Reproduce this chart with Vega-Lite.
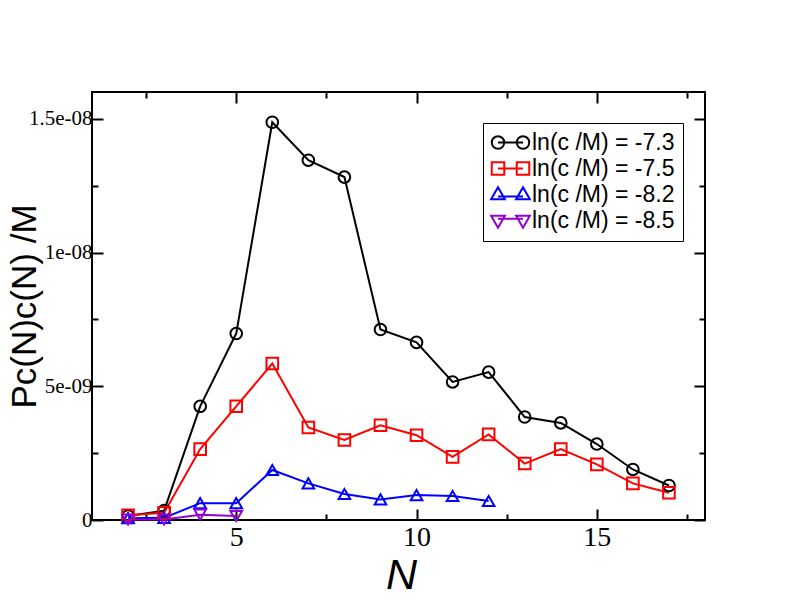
{
  "$schema": "https://vega.github.io/schema/vega-lite/v6.json",
  "width": 613,
  "height": 428,
  "autosize": "none",
  "padding": {"left": 92, "top": 92, "right": 87, "bottom": 92},
  "background": "white",
  "config": {
    "view": {"stroke": "black", "strokeWidth": 2},
    "axis": {"domain": false, "grid": false, "tickColor": "black", "tickWidth": 2, "labelColor": "black", "titleColor": "black"}
  },
  "data": {
    "values": [
      {"N": 2, "v": 0.15e-9, "s": "ln(c /M) = -7.3"},
      {"N": 3, "v": 0.35e-9, "s": "ln(c /M) = -7.3"},
      {"N": 4, "v": 4.25e-9, "s": "ln(c /M) = -7.3"},
      {"N": 5, "v": 6.97e-9, "s": "ln(c /M) = -7.3"},
      {"N": 6, "v": 14.87e-9, "s": "ln(c /M) = -7.3"},
      {"N": 7, "v": 13.45e-9, "s": "ln(c /M) = -7.3"},
      {"N": 8, "v": 12.82e-9, "s": "ln(c /M) = -7.3"},
      {"N": 9, "v": 7.12e-9, "s": "ln(c /M) = -7.3"},
      {"N": 10, "v": 6.64e-9, "s": "ln(c /M) = -7.3"},
      {"N": 11, "v": 5.16e-9, "s": "ln(c /M) = -7.3"},
      {"N": 12, "v": 5.53e-9, "s": "ln(c /M) = -7.3"},
      {"N": 13, "v": 3.85e-9, "s": "ln(c /M) = -7.3"},
      {"N": 14, "v": 3.63e-9, "s": "ln(c /M) = -7.3"},
      {"N": 15, "v": 2.84e-9, "s": "ln(c /M) = -7.3"},
      {"N": 16, "v": 1.89e-9, "s": "ln(c /M) = -7.3"},
      {"N": 17, "v": 1.29e-9, "s": "ln(c /M) = -7.3"},
      {"N": 2, "v": 0.18e-9, "s": "ln(c /M) = -7.5"},
      {"N": 3, "v": 0.27e-9, "s": "ln(c /M) = -7.5"},
      {"N": 4, "v": 2.65e-9, "s": "ln(c /M) = -7.5"},
      {"N": 5, "v": 4.25e-9, "s": "ln(c /M) = -7.5"},
      {"N": 6, "v": 5.85e-9, "s": "ln(c /M) = -7.5"},
      {"N": 7, "v": 3.46e-9, "s": "ln(c /M) = -7.5"},
      {"N": 8, "v": 2.99e-9, "s": "ln(c /M) = -7.5"},
      {"N": 9, "v": 3.54e-9, "s": "ln(c /M) = -7.5"},
      {"N": 10, "v": 3.17e-9, "s": "ln(c /M) = -7.5"},
      {"N": 11, "v": 2.36e-9, "s": "ln(c /M) = -7.5"},
      {"N": 12, "v": 3.2e-9, "s": "ln(c /M) = -7.5"},
      {"N": 13, "v": 2.11e-9, "s": "ln(c /M) = -7.5"},
      {"N": 14, "v": 2.65e-9, "s": "ln(c /M) = -7.5"},
      {"N": 15, "v": 2.08e-9, "s": "ln(c /M) = -7.5"},
      {"N": 16, "v": 1.37e-9, "s": "ln(c /M) = -7.5"},
      {"N": 17, "v": 1.02e-9, "s": "ln(c /M) = -7.5"},
      {"N": 2, "v": 0.07e-9, "s": "ln(c /M) = -8.2"},
      {"N": 3, "v": 0.08e-9, "s": "ln(c /M) = -8.2"},
      {"N": 4, "v": 0.63e-9, "s": "ln(c /M) = -8.2"},
      {"N": 5, "v": 0.63e-9, "s": "ln(c /M) = -8.2"},
      {"N": 6, "v": 1.87e-9, "s": "ln(c /M) = -8.2"},
      {"N": 7, "v": 1.37e-9, "s": "ln(c /M) = -8.2"},
      {"N": 8, "v": 0.97e-9, "s": "ln(c /M) = -8.2"},
      {"N": 9, "v": 0.77e-9, "s": "ln(c /M) = -8.2"},
      {"N": 10, "v": 0.93e-9, "s": "ln(c /M) = -8.2"},
      {"N": 11, "v": 0.9e-9, "s": "ln(c /M) = -8.2"},
      {"N": 12, "v": 0.71e-9, "s": "ln(c /M) = -8.2"},
      {"N": 2, "v": 0.02e-9, "s": "ln(c /M) = -8.5"},
      {"N": 3, "v": 0.02e-9, "s": "ln(c /M) = -8.5"},
      {"N": 4, "v": 0.2e-9, "s": "ln(c /M) = -8.5"},
      {"N": 5, "v": 0.15e-9, "s": "ln(c /M) = -8.5"}
    ]
  },
  "resolve": {
    "scale": {"color": "independent", "shape": "independent"},
    "axis": {"x": "independent", "y": "independent"}
  },
  "layer": [
    {
      "mark": {"type": "line", "strokeWidth": 2},
      "encoding": {
        "x": {
          "field": "N", "type": "quantitative",
          "scale": {"domain": [1, 18], "nice": false, "zero": false},
          "axis": {
            "orient": "bottom",
            "values": [2.5, 5, 7.5, 10, 12.5, 15, 17.5],
            "labelExpr": "datum.value % 5 === 0 ? format(datum.value, 'd') : ''",
            "tickSize": {"condition": {"test": "datum.value % 5 === 0", "value": -11}, "value": -6},
            "labelPadding": 14,
            "labelFont": "Liberation Serif", "labelFontSize": 28,
            "title": "N",
            "titleFont": "Liberation Sans", "titleFontSize": 43, "titleFontStyle": "italic", "titleFontWeight": "normal",
            "titleBaseline": "alphabetic", "titleX": 309, "titleY": 68
          }
        },
        "y": {
          "field": "v", "type": "quantitative",
          "scale": {"domain": [0, 1.6e-8], "nice": false},
          "axis": {
            "orient": "left",
            "values": [0, 2.5e-9, 5e-9, 7.5e-9, 1e-8, 1.25e-8, 1.5e-8],
            "labelExpr": "datum.value === 0 ? '0' : abs(datum.value - 5e-9) < 1e-12 ? '5e-09' : abs(datum.value - 1e-8) < 1e-12 ? '1e-08' : abs(datum.value - 1.5e-8) < 1e-12 ? '1.5e-08' : ''",
            "tickSize": {"condition": {"test": "abs(datum.value / 5e-9 - round(datum.value / 5e-9)) < 0.01", "value": -11}, "value": -6},
            "labelPadding": 11,
            "labelFont": "Liberation Serif", "labelFontSize": 21,
            "title": "Pc(N)c(N) /M",
            "titleFont": "Liberation Sans", "titleFontSize": 35, "titleFontWeight": "normal",
            "titleAngle": -90, "titleBaseline": "alphabetic", "titleAlign": "center",
            "titleX": -57, "titleY": 214
          }
        },
        "color": {
          "field": "s", "type": "nominal",
          "scale": {"domain": ["ln(c /M) = -7.3", "ln(c /M) = -7.5", "ln(c /M) = -8.2", "ln(c /M) = -8.5"], "range": ["#000000", "#ff0000", "#0000ff", "#9400d3"]},
          "legend": null
        }
      }
    },
    {
      "mark": {"type": "point", "filled": false, "strokeWidth": 2, "size": 135, "opacity": 1},
      "encoding": {
        "x": {
          "field": "N", "type": "quantitative",
          "scale": {"domain": [1, 18], "nice": false, "zero": false},
          "axis": {
            "orient": "top", "labels": false, "title": null,
            "values": [2.5, 5, 7.5, 10, 12.5, 15, 17.5],
            "tickSize": {"condition": {"test": "datum.value % 5 === 0", "value": -11}, "value": -6}
          }
        },
        "y": {
          "field": "v", "type": "quantitative",
          "scale": {"domain": [0, 1.6e-8], "nice": false},
          "axis": {
            "orient": "right", "labels": false, "title": null,
            "values": [0, 2.5e-9, 5e-9, 7.5e-9, 1e-8, 1.25e-8, 1.5e-8],
            "tickSize": {"condition": {"test": "abs(datum.value / 5e-9 - round(datum.value / 5e-9)) < 0.01", "value": -11}, "value": -6}
          }
        },
        "color": {
          "field": "s", "type": "nominal",
          "scale": {"domain": ["ln(c /M) = -7.3", "ln(c /M) = -7.5", "ln(c /M) = -8.2", "ln(c /M) = -8.5"], "range": ["#000000", "#ff0000", "#0000ff", "#9400d3"]},
          "legend": null
        },
        "shape": {
          "field": "s", "type": "nominal",
          "scale": {"domain": ["ln(c /M) = -7.3", "ln(c /M) = -7.5", "ln(c /M) = -8.2", "ln(c /M) = -8.5"], "range": ["circle", "square", "triangle-up", "triangle-down"]},
          "legend": null
        }
      }
    },
    {
      "mark": {"type": "point", "filled": false, "strokeWidth": 2, "size": 156.25, "opacity": 0},
      "encoding": {
        "x": {"field": "N", "type": "quantitative", "scale": {"domain": [1, 18], "nice": false, "zero": false}, "axis": null},
        "y": {"field": "v", "type": "quantitative", "scale": {"domain": [0, 1.6e-8], "nice": false}, "axis": null},
        "color": {
          "field": "s", "type": "nominal",
          "scale": {"domain": ["ln(c /M) = -7.3", "ln(c /M) = -7.5", "ln(c /M) = -8.2", "ln(c /M) = -8.5"], "range": ["#000000", "#ff0000", "#0000ff", "#9400d3"]},
          "legend": {
            "orient": "none", "legendX": 391, "legendY": 31, "title": null,
            "padding": 8, "strokeColor": "black", "fillColor": "white",
            "labelFont": "Liberation Sans", "labelFontSize": 23, "labelColor": "black", "labelLimit": 0,
            "symbolSize": 156.25, "symbolStrokeWidth": 2, "symbolOpacity": 1,
            "symbolOffset": 8, "labelOffset": 10, "rowPadding": 2
          }
        },
        "shape": {
          "field": "s", "type": "nominal",
          "scale": {
            "domain": ["ln(c /M) = -7.3", "ln(c /M) = -7.5", "ln(c /M) = -8.2", "ln(c /M) = -8.5"],
            "range": [
              "M-3,0A1,1 0 1,0 -1,0A1,1 0 1,0 -3,0ZM1,0A1,1 0 1,0 3,0A1,1 0 1,0 1,0ZM-2,0L2,0",
              "M-3,-1H-1V1H-3ZM1,-1H3V1H1ZM-2,0L2,0",
              "M-2,-1.15L-0.9,0.75L-3.1,0.75ZM2,-1.15L3.1,0.75L0.9,0.75ZM-2,0.3L2,0.3",
              "M-2,1.15L-0.9,-0.75L-3.1,-0.75ZM2,1.15L3.1,-0.75L0.9,-0.75ZM-2,-0.3L2,-0.3"
            ]
          },
          "legend": {
            "orient": "none", "legendX": 391, "legendY": 31, "title": null,
            "padding": 8, "strokeColor": "black", "fillColor": "white",
            "labelFont": "Liberation Sans", "labelFontSize": 23, "labelColor": "black", "labelLimit": 0,
            "symbolSize": 156.25, "symbolStrokeWidth": 2, "symbolOpacity": 1,
            "symbolOffset": 8, "labelOffset": 10, "rowPadding": 2
          }
        }
      }
    }
  ]
}
